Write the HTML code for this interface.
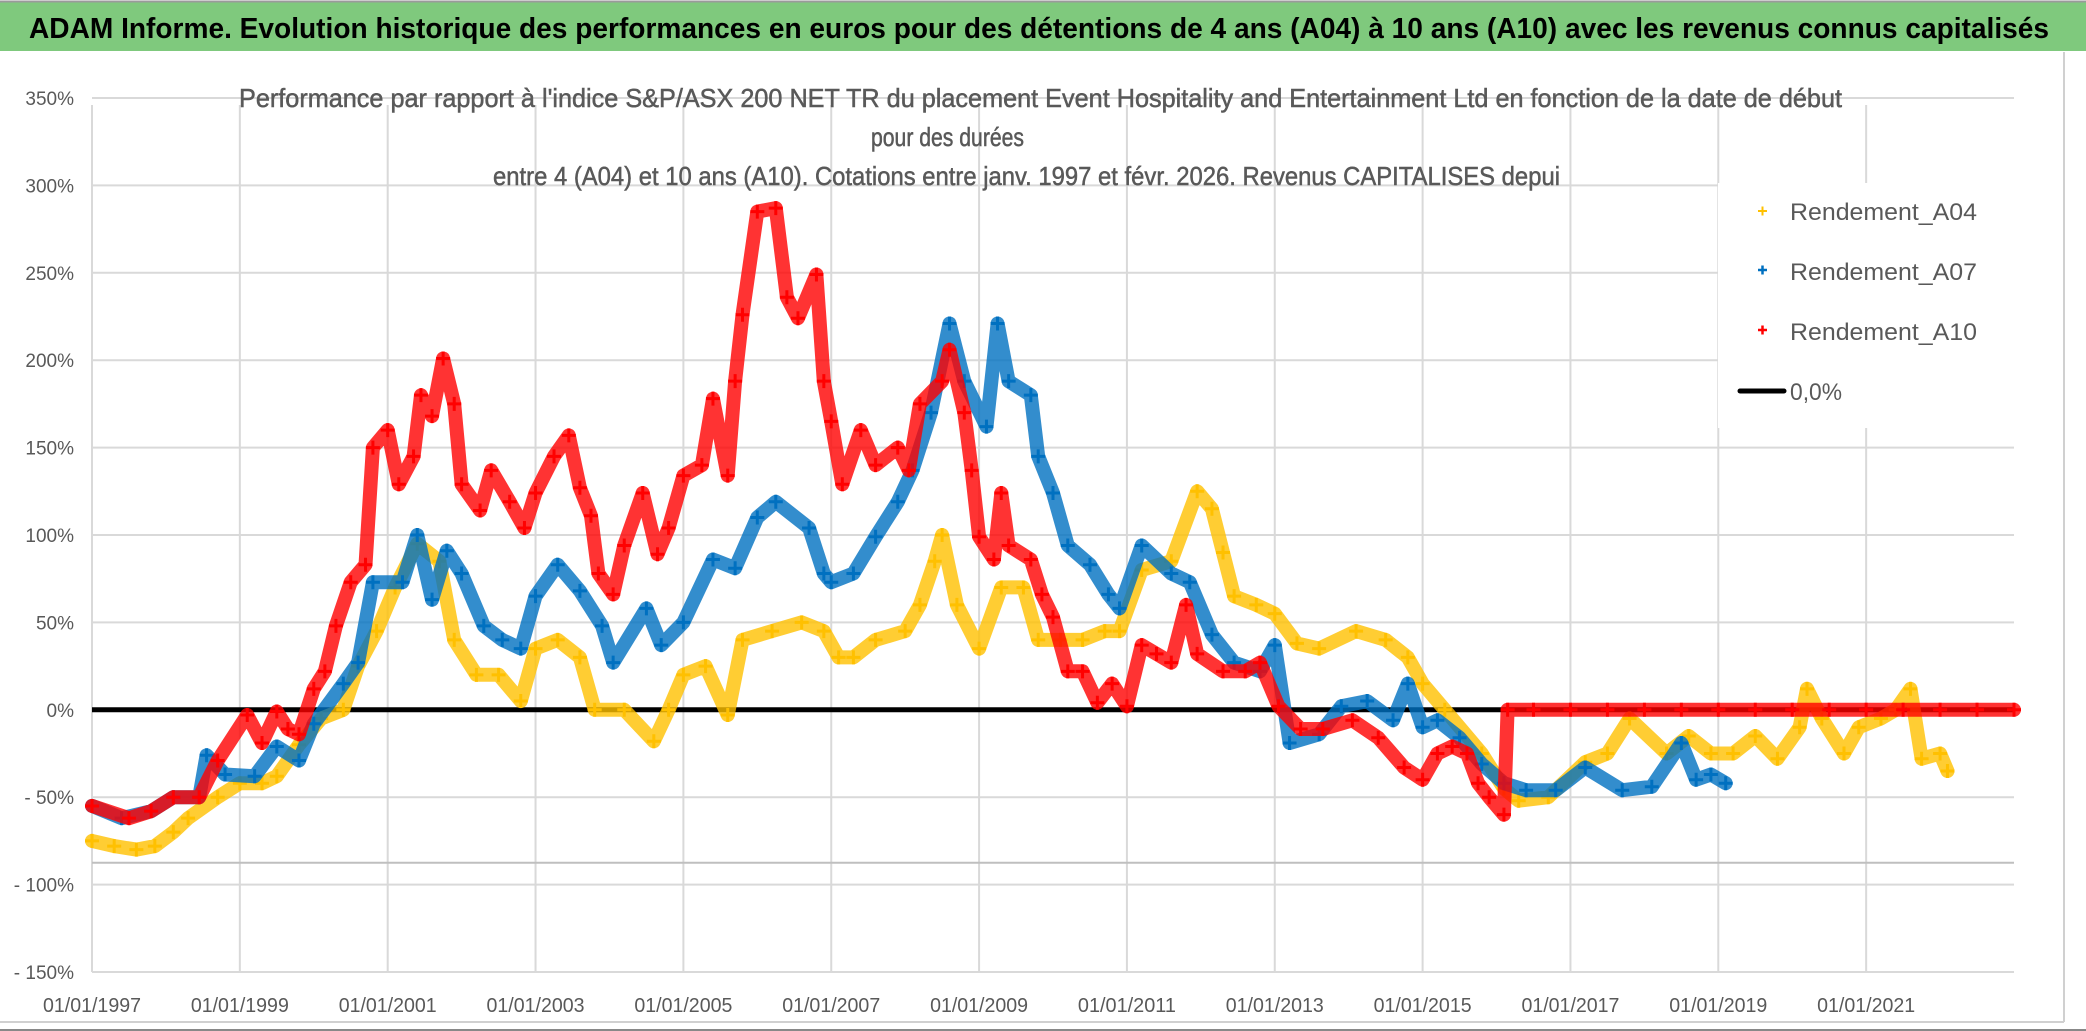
<!DOCTYPE html>
<html><head><meta charset="utf-8">
<style>
html,body{margin:0;padding:0;background:#fff;}
svg{display:block;}
</style></head>
<body>
<svg id="chart" width="2086" height="1031" viewBox="0 0 2086 1031" xmlns="http://www.w3.org/2000/svg" font-family="'Liberation Sans', sans-serif">
  <rect x="0" y="0" width="2086" height="1031" fill="#fff"/>
  <rect x="0" y="2" width="2086" height="49" fill="#7fc97d"/>
  <line x1="0" y1="1.5" x2="2086" y2="1.5" stroke="#9a9a9a" stroke-width="2"/>
  <text x="29" y="38" font-size="29" font-weight="bold" fill="#000" textLength="2020" lengthAdjust="spacingAndGlyphs">ADAM Informe. Evolution historique des performances en euros pour des détentions de 4 ans (A04) à 10 ans (A10) avec les revenus connus capitalisés</text>
  <line x1="2064" y1="52" x2="2064" y2="1022" stroke="#d0d0d0" stroke-width="2"/>
  <line x1="0" y1="1022" x2="2064" y2="1022" stroke="#d0d0d0" stroke-width="2"/>
  <line x1="0" y1="1030" x2="2086" y2="1030" stroke="#888" stroke-width="2"/>
  <g id="grid"></g>
  <g id="axes"></g>
  <g id="series"></g>
  <g id="titles">
    <text x="239" y="107" font-size="26" fill="#595959" stroke="#595959" stroke-width="0.5" textLength="1603" lengthAdjust="spacingAndGlyphs">Performance par rapport à l'indice S&amp;P/ASX 200 NET TR  du placement Event Hospitality and Entertainment Ltd en fonction de la date de début</text>
    <text x="871" y="146" font-size="26" fill="#595959" stroke="#595959" stroke-width="0.5" textLength="153" lengthAdjust="spacingAndGlyphs">pour des durées</text>
    <text x="493" y="185" font-size="26" fill="#595959" stroke="#595959" stroke-width="0.5" textLength="1067" lengthAdjust="spacingAndGlyphs">entre 4 (A04) et 10 ans (A10). Cotations entre janv. 1997 et févr. 2026. Revenus CAPITALISES depui</text>
  </g>
  <g id="legend">
    <rect x="1718" y="183" width="297" height="245" fill="#fff"/>
    <g>
      <path d="M1758 211h9M1762.5 206.5v9" stroke="#FFC000" stroke-width="2"/>
      <text x="1790" y="220" font-size="24" fill="#595959" textLength="187" lengthAdjust="spacingAndGlyphs">Rendement_A04</text>
    </g>
    <g>
      <path d="M1758 270h9M1762.5 265.5v9" stroke="#0070C0" stroke-width="2.5"/>
      <text x="1790" y="280" font-size="24" fill="#595959" textLength="187" lengthAdjust="spacingAndGlyphs">Rendement_A07</text>
    </g>
    <g>
      <path d="M1758 330h9M1762.5 325.5v9" stroke="#FF0000" stroke-width="2.5"/>
      <text x="1790" y="340" font-size="24" fill="#595959" textLength="187" lengthAdjust="spacingAndGlyphs">Rendement_A10</text>
    </g>
    <g>
      <line x1="1740" y1="391" x2="1784" y2="391" stroke="#000" stroke-width="5" stroke-linecap="round"/>
      <text x="1790" y="400" font-size="24" fill="#595959" textLength="52" lengthAdjust="spacingAndGlyphs">0,0%</text>
    </g>
  </g>
</svg>
<script>
// ---- data ----
const yTicks = [350,300,250,200,150,100,50,0,-50,-100,-150];
const yTickLabels = ["350%","300%","250%","200%","150%","100%","50%","0%","- 50%","- 100%","- 150%"];
const xTicks = [1997,1999,2001,2003,2005,2007,2009,2011,2013,2015,2017,2019,2021];
const xTickLabels = ["01/01/1997","01/01/1999","01/01/2001","01/01/2003","01/01/2005","01/01/2007","01/01/2009","01/01/2011","01/01/2013","01/01/2015","01/01/2017","01/01/2019","01/01/2021"];

const a04Dates = [1997.0,1997.3,1997.6,1997.85,1998.1,1998.3,1998.7,1999.0,1999.3,1999.5,1999.8,2000.1,2000.4,2000.6,2000.85,2001.1,2001.4,2001.7,2001.9,2002.2,2002.5,2002.8,2003.0,2003.3,2003.6,2003.8,2004.2,2004.6,2004.8,2005.0,2005.3,2005.6,2005.8,2006.2,2006.6,2006.9,2007.1,2007.3,2007.6,2008.0,2008.2,2008.4,2008.5,2008.7,2009.0,2009.3,2009.6,2009.8,2010.1,2010.4,2010.7,2010.9,2011.2,2011.6,2011.95,2012.15,2012.3,2012.45,2012.75,2013.0,2013.3,2013.6,2014.1,2014.5,2014.8,2015.0,2015.3,2015.8,2016.1,2016.3,2016.7,2017.2,2017.5,2017.8,2018.3,2018.6,2018.9,2019.2,2019.5,2019.8,2020.1,2020.2,2020.4,2020.7,2020.9,2021.2,2021.4,2021.6,2021.75,2022.0,2022.1];
const a04Values = [-75,-78,-80,-78,-70,-62,-50,-42,-42,-38,-20,-5,0,25,45,70,95,85,40,20,20,5,35,40,30,0,0,-18,0,20,25,-3,40,45,50,45,30,30,40,45,60,85,100,60,35,70,70,40,40,40,45,45,80,85,125,115,90,65,60,55,38,35,45,40,30,15,0,-25,-45,-52,-50,-30,-25,-5,-25,-15,-25,-25,-15,-28,-10,12,-5,-25,-10,-5,0,12,-28,-25,-35];

const a07Dates = [1997.0,1997.4,1997.8,1998.1,1998.45,1998.55,1998.8,1999.2,1999.5,1999.8,2000.0,2000.4,2000.6,2000.8,2001.2,2001.4,2001.6,2001.8,2002.0,2002.3,2002.55,2002.8,2003.0,2003.3,2003.6,2003.9,2004.05,2004.5,2004.7,2005.0,2005.4,2005.7,2006.0,2006.25,2006.7,2006.9,2007.0,2007.3,2007.6,2007.9,2008.1,2008.35,2008.6,2008.8,2009.1,2009.25,2009.4,2009.7,2009.8,2010.0,2010.2,2010.5,2010.75,2010.9,2011.2,2011.6,2011.85,2012.15,2012.45,2012.8,2013.0,2013.2,2013.6,2013.9,2014.25,2014.6,2014.8,2015.0,2015.2,2015.5,2015.8,2016.1,2016.4,2016.8,2017.2,2017.7,2018.1,2018.5,2018.7,2018.9,2019.1];
const a07Values = [-55,-62,-58,-50,-50,-26,-37,-38,-21,-29,-8,15,27,73,73,100,63,91,78,48,40,35,65,83,68,48,27,58,37,50,86,81,110,119,104,78,73,78,99,119,137,170,221,188,162,221,188,180,145,124,94,83,66,58,94,78,73,43,27,22,37,-19,-14,2,5,-6,15,-10,-6,-16,-31,-42,-46,-46,-33,-46,-44,-19,-40,-37,-42];

const a10Dates = [1997.0,1997.5,1997.8,1998.1,1998.45,1998.7,1999.1,1999.3,1999.5,1999.65,1999.8,2000.0,2000.15,2000.3,2000.5,2000.7,2000.8,2001.0,2001.15,2001.35,2001.45,2001.6,2001.75,2001.9,2002.0,2002.25,2002.4,2002.65,2002.85,2003.0,2003.25,2003.45,2003.6,2003.75,2003.85,2004.05,2004.2,2004.45,2004.65,2004.8,2005.0,2005.25,2005.4,2005.6,2005.7,2005.8,2006.0,2006.25,2006.4,2006.55,2006.8,2006.9,2007.0,2007.15,2007.4,2007.6,2007.9,2008.05,2008.2,2008.5,2008.6,2008.8,2008.9,2009.0,2009.2,2009.3,2009.4,2009.7,2009.85,2010.0,2010.2,2010.4,2010.6,2010.8,2011.0,2011.2,2011.4,2011.6,2011.8,2011.95,2012.3,2012.6,2012.8,2013.05,2013.35,2013.65,2014.05,2014.4,2014.75,2015.0,2015.2,2015.4,2015.6,2015.75,2015.9,2016.1,2016.15,2016.5,2017.0,2017.5,2018.0,2018.5,2019.0,2019.5,2020.0,2020.5,2021.0,2021.5,2022.0,2022.5,2023.0];
const a10Values = [-55,-62,-58,-50,-50,-29,-3,-19,-1,-11,-14,12,22,48,73,83,150,160,129,145,180,168,201,175,129,114,137,119,104,124,145,157,127,111,78,66,94,124,89,104,134,140,178,134,188,226,285,287,236,224,249,188,165,129,160,140,150,137,175,188,206,170,137,99,86,124,94,86,66,53,22,22,4,15,2,37,32,27,60,32,22,22,27,2,-11,-11,-6,-16,-33,-40,-25,-21,-25,-42,-50,-60,0,0,0,0,0,0,0,0,0,0,0,0,0,0,0];

// ---- axes ----
const X0 = 92, X1 = 2014, YEAR0 = 1997, YEAR1 = 2023;
const Y_TOP = 98, Y_BOT = 972, V_TOP = 350, V_BOT = -150;
function xScale(yr){ return X0 + (yr - YEAR0) / (YEAR1 - YEAR0) * (X1 - X0); }
function yScale(v){ return Y_TOP + (V_TOP - v) / (V_TOP - V_BOT) * (Y_BOT - Y_TOP); }

const NS = "http://www.w3.org/2000/svg";
function mk(tag, attrs, parent){
  const e = document.createElementNS(NS, tag);
  for (const k in attrs) e.setAttribute(k, attrs[k]);
  parent.appendChild(e);
  return e;
}
const grid = document.getElementById('grid');
const axes = document.getElementById('axes');
const series = document.getElementById('series');

yTicks.forEach((v, i) => {
  const y = yScale(v);
  const gl = mk('line', {x1: X0, x2: X1, y1: y, y2: y, stroke: '#d9d9d9', 'stroke-width': 2}, grid);
  
  
  const t = mk('text', {x: 74, y: y + 7, 'text-anchor': 'end', 'font-size': 19, fill: '#595959'}, axes);
  t.textContent = yTickLabels[i];
  
  
});
xTicks.forEach((yr, i) => {
  const x = xScale(yr);
  const gl = mk('line', {x1: x, x2: x, y1: Y_TOP + 7, y2: Y_BOT, stroke: '#d9d9d9', 'stroke-width': 2}, grid);
  
  
  const t = mk('text', {x: x, y: 1012, 'text-anchor': 'middle', 'font-size': 20, fill: '#595959', textLength: 98, lengthAdjust: 'spacingAndGlyphs'}, axes);
  t.textContent = xTickLabels[i];
  
  
});
const ax = mk('line', {x1: X0, x2: X1, y1: yScale(-87.5), y2: yScale(-87.5), stroke: '#bfbfbf', 'stroke-width': 2}, axes);



const zl = mk('line', {x1: X0, x2: X1, y1: yScale(0), y2: yScale(0), stroke: '#000', 'stroke-width': 5}, series);



function drawSeries(dates, values, color, name, sw){
  const g = mk('g', {}, series);
  
  
  const pts = dates.map((d, i) => xScale(d).toFixed(1) + ',' + yScale(values[i]).toFixed(1)).join(' ');
  const pl = mk('polyline', {points: pts, fill: 'none', stroke: color, 'stroke-width': sw, 'stroke-linejoin': 'round', 'stroke-linecap': 'round', opacity: 0.8}, g);
  
  
  let d = '';
  dates.forEach((dt, i) => {
    const x = xScale(dt), y = yScale(values[i]);
    d += 'M' + (x - 7) + ' ' + y + 'h14M' + x + ' ' + (y - 7) + 'v14';
  });
  const mp = mk('path', {d: d, stroke: color, 'stroke-width': 3, fill: 'none'}, g);
  
  
}
drawSeries(a04Dates, a04Values, '#FFC000', 'series-a04', 14);
drawSeries(a07Dates, a07Values, '#0070C0', 'series-a07', 14);
drawSeries(a10Dates, a10Values, '#FF0000', 'series-a10', 14);

const svg = document.getElementById('chart');
svg.appendChild(document.getElementById('titles'));
svg.appendChild(document.getElementById('legend'));
</script>
</body></html>
